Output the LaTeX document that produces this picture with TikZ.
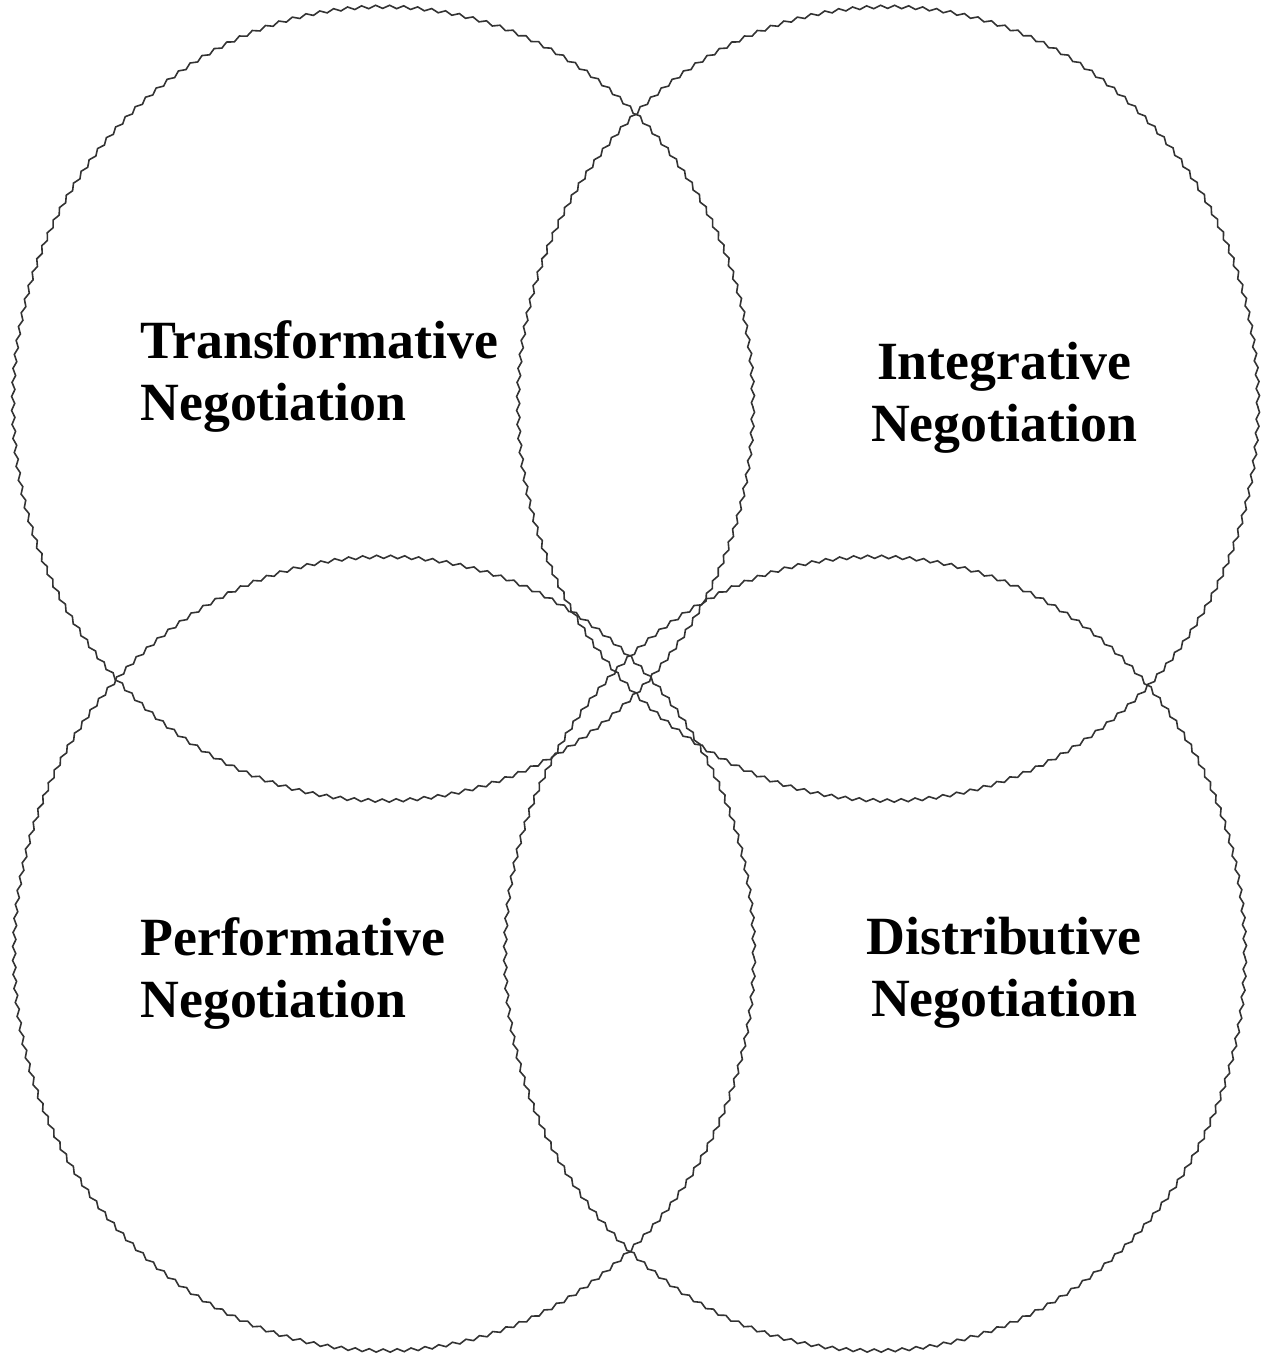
\documentclass[tikz,border=0pt]{standalone}
\usepackage{fontspec}
\setmainfont{Liberation Serif}
\usepackage{tikz}
\usetikzlibrary{positioning, decorations.pathmorphing}

\tikzset{
  ring/.style={draw=black!80, line width=0.8pt, decorate,
    decoration={snake, amplitude=0.8pt, segment length=7pt}},
  label/.style={font=\fontsize{26.9}{31}\selectfont\bfseries, inner sep=0pt}
}

\begin{document}
\begin{tikzpicture}[x=0.5pt, y=-0.5pt]
        \useasboundingbox (0,0) rectangle (1264,1362);

        % Draw the four rings
        \foreach \cx/\cy in {383/407, 888/407, 384/957, 875/957} {
          \draw[ring] (\cx,\cy) ellipse [x radius=185pt, y radius=198.5pt];
        }

        % Labels
        \node[label, align=left, anchor=west] (trans) at (140,376) {Transformative\\Negotiation};
        \node[label, align=center] (integ) at (1004,398) {Integrative\\Negotiation};
        \node[label, align=left, anchor=west] (perf) at (140,973) {Performative\\Negotiation};
        \node[label, align=center] (distr) at (1004,973) {Distributive\\Negotiation};
      \end{tikzpicture}
\end{document}
